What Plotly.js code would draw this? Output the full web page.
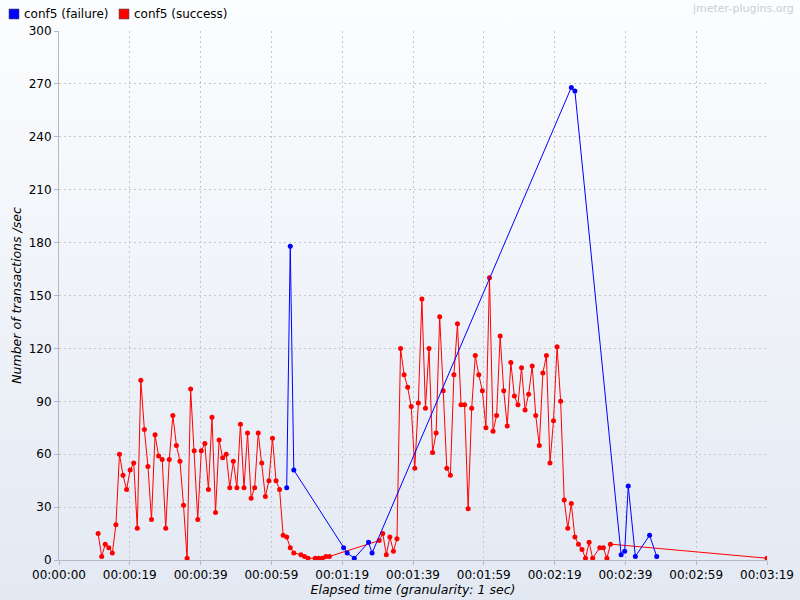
<!DOCTYPE html>
<html>
<head>
<meta charset="utf-8">
<script src="https://cdn.plot.ly/plotly-3.0.1.min.js"></script>
<style>
  html, body { margin:0; padding:0; }
  body { width:800px; height:600px; background:linear-gradient(#fcfdfe, #e3e9f3); }
  #chart { width:800px; height:600px; }
</style>
</head>
<body>
<div id="chart"></div>
<script>
// elapsed seconds and transactions/sec
const failTime = [64, 65, 66, 80, 81, 83, 87, 88, 144, 145, 158, 159, 160, 162, 166, 168];
const failRate = [41, 178, 51, 7, 4, 1, 10, 4, 268, 266, 3, 5, 42, 2, 14, 2];

const succTime = [
  11,12,13,14,15,16,17,18,19,20,21,22,23,24,25,26,27,28,29,30,
  31,32,33,34,35,36,37,38,39,40,41,42,43,44,45,46,47,48,49,50,
  51,52,53,54,55,56,57,58,59,60,61,62,63,64,65,66,
  68,69,70,72,73,74,75,76,
  90,91,92,93,94,95,
  96,97,98,99,100,101,102,103,104,105,106,107,108,109,110,111,112,113,114,115,
  116,117,118,119,120,121,122,123,124,125,126,127,128,129,130,131,132,133,134,135,
  136,137,138,139,140,141,142,143,144,145,146,147,148,149,150,
  152,153,154,155,199
];
const succRate = [
  15,2,9,7,4,20,60,48,40,51,55,18,102,74,53,23,71,59,57,18,
  57,82,65,56,31,1,97,62,23,62,66,40,81,27,68,58,60,41,56,41,
  77,41,72,35,41,72,55,36,45,69,45,40,14,13,7,4,
  3,2,1,1,1,1,2,2,
  11,15,3,13,5,12,
  120,105,98,87,52,89,148,86,120,61,72,138,96,52,48,105,134,88,88,29,
  86,116,105,96,75,160,73,82,127,96,76,112,93,88,109,85,94,110,82,65,
  106,116,55,79,121,90,34,18,32,13,9,6,1,10,1,
  7,7,1,9,1
];

const seriesNames = ['conf5 (failure)', 'conf5 (success)'];
const seriesColors = ['#0000ff', '#ff0000'];

const xTickVals = [0, 19.9, 39.8, 59.7, 79.6, 99.5, 119.4, 139.3, 159.2, 179.1, 199];
const xTickText = ['00:00:00','00:00:19','00:00:39','00:00:59','00:01:19','00:01:39',
                   '00:01:59','00:02:19','00:02:39','00:02:59','00:03:19'];
const yTickVals = [0, 30, 60, 90, 120, 150, 180, 210, 240, 270, 300];

const FONT = 'DejaVu Sans, sans-serif';
const GRID = '#c3c7cc';
const AXIS = '#b3bac5';

const seriesTrace = (name, x, y, color) => ({
  type:'scatter', mode:'lines+markers', name, x, y,
  line:{color, width:1}, marker:{color, size:5},
  showlegend:false, hoverinfo:'x+y'
});

const data = [
  seriesTrace(seriesNames[1], succTime, succRate, seriesColors[1]),
  seriesTrace(seriesNames[0], failTime, failRate, seriesColors[0]),
];

// legend drawn as swatch + label, laid out in pixels from the top-left corner
const L = 59, W = 800 - 59 - 33, B = 600 - 40, H = 600 - 31 - 40;
const px = v => (v - L) / W;
const py = v => (B - v) / H;
const legendX = [9, 119];
const legendShapes = seriesColors.map((c, i) => ({
  type:'rect', xref:'paper', yref:'paper',
  x0:px(legendX[i]), x1:px(legendX[i] + 10), y0:py(19), y1:py(9),
  fillcolor:c, line:{color:'#555', width:0.6}
}));
const legendLabels = seriesNames.map((n, i) => ({
  text:n, xref:'paper', yref:'paper', x:px(legendX[i] + 13), y:py(14),
  xanchor:'left', yanchor:'middle', showarrow:false,
  font:{family:FONT, size:12, color:'#000'}
}));

const layout = {
  width:800, height:600,
  paper_bgcolor:'rgba(0,0,0,0)', plot_bgcolor:'rgba(0,0,0,0)',
  margin:{l:59, r:33, t:31, b:40, autoexpand:false},
  font:{family:FONT, size:12, color:'#000'},
  showlegend:false,
  xaxis:{
    range:[0,199], tickvals:xTickVals, ticktext:xTickText, tickangle:0, automargin:false,
    showgrid:true, gridcolor:GRID, griddash:'2px,3px', gridwidth:1,
    showline:true, linecolor:AXIS, linewidth:1, zeroline:false,
    ticks:'outside', ticklen:4, tickcolor:AXIS,
    tickfont:{family:FONT, size:12, color:'#000'},
    title:{text:'Elapsed time (granularity: 1 sec)', standoff:0,
           font:{family:FONT, size:12.5, color:'#000', style:'italic'}}
  },
  yaxis:{
    range:[0,300], tickvals:yTickVals, automargin:false,
    showgrid:true, gridcolor:GRID, griddash:'2px,3px', gridwidth:1,
    showline:true, linecolor:AXIS, linewidth:1, zeroline:false,
    ticks:'outside', ticklen:4, tickcolor:AXIS,
    tickfont:{family:FONT, size:12, color:'#000'},
    title:{text:'Number of transactions /sec', standoff:4,
           font:{family:FONT, size:12.5, color:'#000', style:'italic'}}
  },
  shapes:legendShapes,
  annotations:legendLabels.concat([{
    text:'jmeter-plugins.org', xref:'paper', yref:'paper', x:px(796), y:py(0),
    xanchor:'right', yanchor:'top', showarrow:false,
    font:{family:FONT, size:11, color:'#c9ced6'}
  }])
};

Plotly.newPlot('chart', data, layout, {displayModeBar:false, staticPlot:true});
</script>
</body>
</html>
